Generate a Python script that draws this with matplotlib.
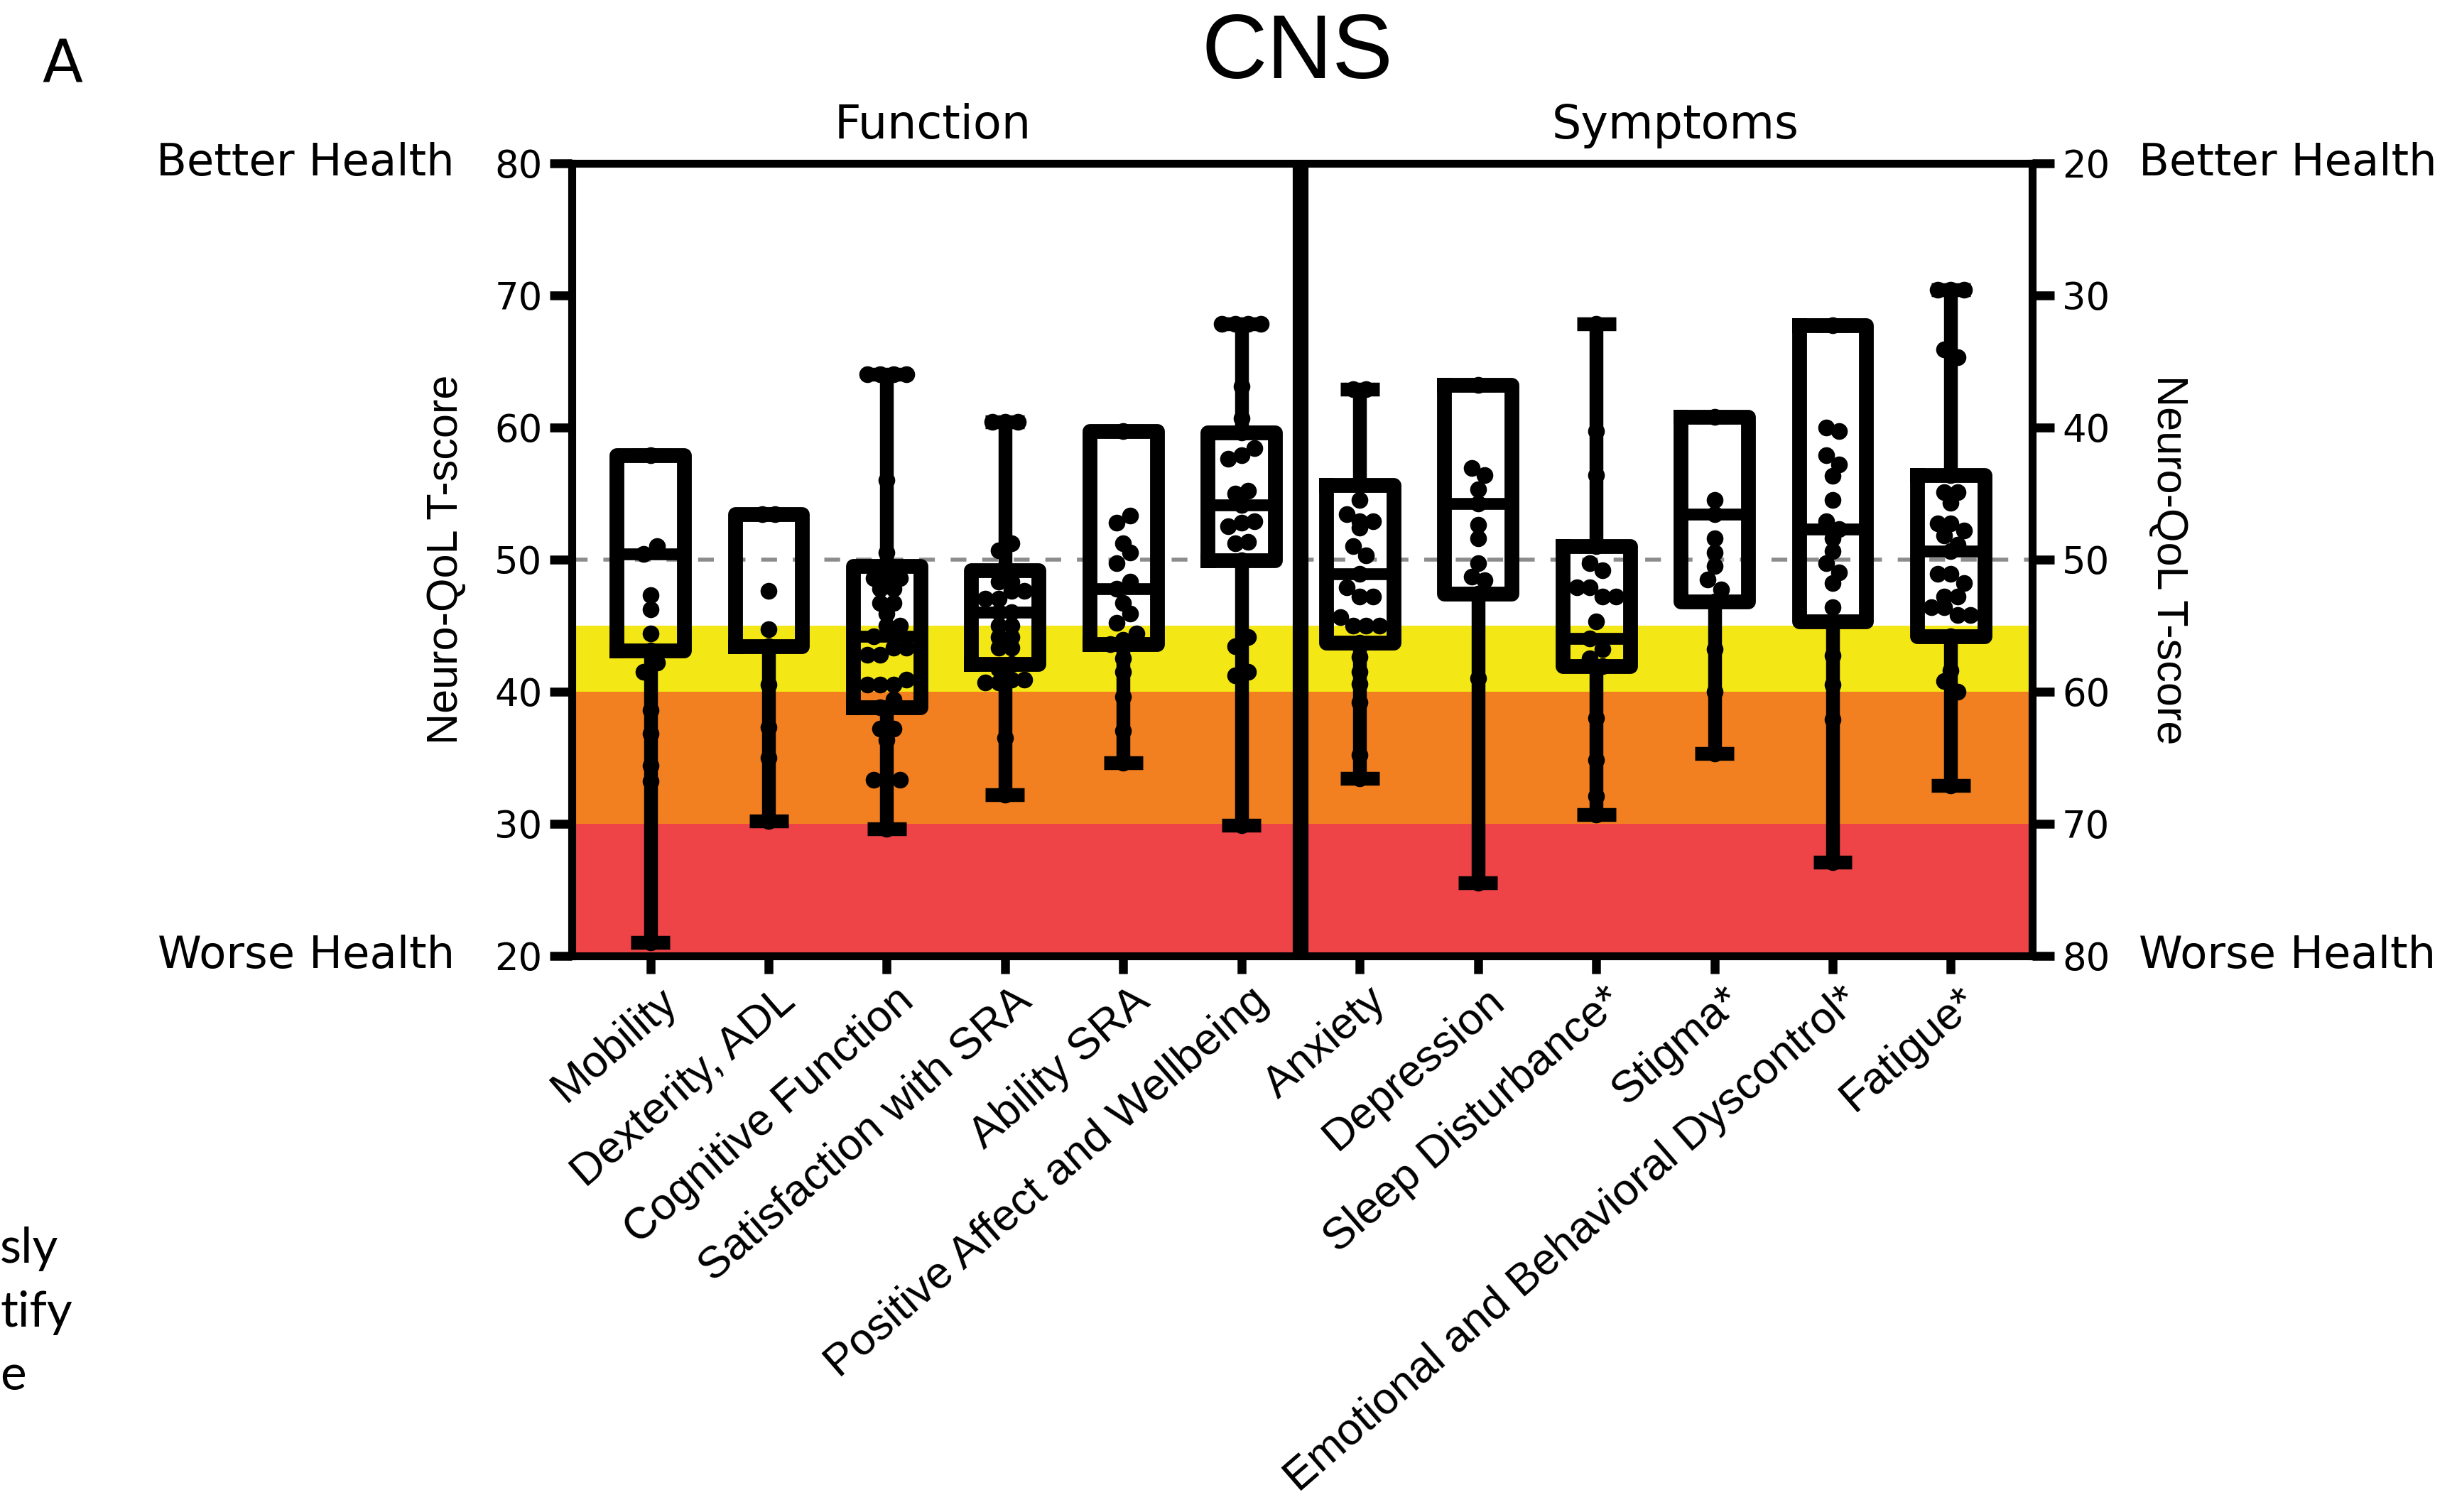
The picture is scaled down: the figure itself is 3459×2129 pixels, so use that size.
import numpy as np
import matplotlib.pyplot as plt
from matplotlib.transforms import ScaledTranslation

# categories
function_names = ["Mobility", "Dexterity, ADL", "Cognitive Function",
                  "Satisfaction with SRA", "Ability SRA", "Positive Affect and Wellbeing"]
symptom_names = ["Anxiety", "Depression", "Sleep Disturbance*", "Stigma*",
                 "Emotional and Behavioral Dyscontrol*", "Fatigue*"]

# function domains, left axis (higher = better)
fun_min = [21.0, 30.2, 29.6, 32.2, 34.6, 29.9]
fun_q1 = [43.1, 43.4, 38.8, 42.1, 43.6, 49.9]
fun_med = [50.4, 53.4, 44.2, 46.0, 47.8, 54.1]
fun_q3 = [57.9, 53.4, 49.5, 49.2, 59.7, 59.6]
fun_max = [57.9, 53.4, 64.0, 60.4, 59.7, 67.8]

mobility = [57.9, 51.0, 50.4, 47.3, 46.2, 44.4, 43.1, 42.2, 41.5, 38.6, 36.8, 34.4, 33.2, 21.0]
dexterity = [53.4, 53.4, 47.6, 44.7, 43.4, 40.5, 37.3, 35.0, 30.2]
cognitive = [64.0, 64.0, 64.0, 64.0, 56.0, 50.5, 49.5, 48.6, 48.6, 48.6, 47.8, 47.8, 46.7, 46.7,
             45.9, 45.0, 45.0, 44.2, 43.3, 43.3, 42.8, 42.8, 40.9, 40.5, 40.5, 40.5, 39.4, 38.8,
             37.2, 37.2, 36.3, 33.3, 33.3, 33.3, 29.6]
satisfaction = [60.4, 60.4, 60.4, 51.2, 50.7, 49.2, 48.3, 48.3, 47.6, 47.6, 47.0, 47.0, 46.0, 46.0,
                45.0, 45.0, 44.1, 44.1, 43.3, 43.3, 42.1, 41.7, 40.9, 40.9, 40.7, 40.7, 36.5, 32.2]
ability = [59.7, 53.3, 52.8, 51.2, 50.5, 49.7, 48.3, 47.8, 46.7, 45.9, 45.2, 44.4, 43.9, 43.6,
           42.5, 41.5, 39.6, 37.0, 34.6]
positive = [67.8, 67.8, 67.8, 67.8, 63.1, 60.7, 59.6, 58.4, 57.9, 57.6, 55.2, 55.0, 54.1, 52.9,
            52.8, 52.5, 51.3, 51.2, 49.9, 44.1, 43.4, 41.5, 41.2, 29.9]

# symptom domains, right axis (higher = worse)
sym_min = [37.1, 36.8, 32.2, 39.2, 32.3, 29.6]
sym_q1 = [44.4, 36.8, 49.0, 39.2, 32.3, 43.6]
sym_med = [51.1, 45.8, 56.0, 46.6, 47.7, 49.4]
sym_q3 = [56.3, 52.6, 58.1, 53.2, 54.7, 55.8]
sym_max = [66.6, 74.5, 69.3, 64.7, 72.9, 67.1]

anxiety = [37.1, 37.1, 44.4, 45.5, 46.6, 47.1, 47.1, 47.6, 49.0, 49.7, 51.1, 52.1, 52.8, 52.8,
           54.4, 55.0, 55.0, 55.0, 56.3, 57.4, 58.5, 59.4, 60.8, 64.8, 66.6]
depression = [36.8, 43.1, 43.6, 44.7, 45.8, 47.4, 48.4, 50.3, 51.3, 51.6, 52.6, 59.0, 74.5]
sleep = [32.2, 40.3, 43.6, 49.0, 50.3, 50.8, 52.1, 52.1, 52.8, 52.8, 54.7, 56.0, 56.8, 57.5,
         58.1, 62.0, 65.2, 67.9, 69.3]
stigma = [39.2, 45.5, 46.6, 48.4, 49.5, 50.5, 51.5, 52.3, 53.2, 56.8, 60.0, 64.7]
emotional = [32.3, 40.0, 40.3, 42.1, 42.8, 43.7, 45.5, 47.1, 47.7, 48.4, 49.4, 50.3, 51.0, 51.8,
             53.6, 54.7, 57.3, 59.5, 62.1, 72.9]
fatigue = [29.6, 29.6, 29.6, 34.1, 34.7, 43.6, 44.9, 44.9, 45.7, 47.3, 47.3, 47.8, 48.2, 48.9,
           49.4, 51.1, 51.1, 51.8, 52.8, 52.8, 53.6, 53.6, 54.2, 54.2, 55.8, 58.4, 59.2, 60.0, 67.1]

fun_points = [mobility, dexterity, cognitive, satisfaction, ability, positive]
sym_points = [anxiety, depression, sleep, stigma, emotional, fatigue]

YELLOW = "#F3E716"
ORANGE = "#F38020"
RED = "#EE4447"
PRISM = "DejaVu Sans"
ARIAL = "Liberation Sans"


def make_stats(lo, q1, med, q3, hi):
    return [dict(whislo=a, q1=b, med=c, q3=d, whishi=e, fliers=[])
            for a, b, c, d, e in zip(lo, q1, med, q3, hi)]


def swarm(vals, d=0.11, tol=0.8):
    # spread near-equal values sideways, centred on the box
    vals = np.sort(np.asarray(vals, dtype=float))
    xs = np.zeros(len(vals))
    start = 0
    for i in range(1, len(vals) + 1):
        if i == len(vals) or vals[i] - vals[start] > tol:
            n = i - start
            xs[start:i] = (np.arange(n) - (n - 1) / 2) * d
            start = i
    return xs, vals


fig = plt.figure(figsize=(34.59, 21.29), dpi=100)
ax = fig.add_axes([0.2328, 0.3679, 0.5944, 0.5243])
ax2 = ax.twinx()

# severity bands
ax.axhspan(40, 45, color=YELLOW, lw=0, zorder=0)
ax.axhspan(30, 40, color=ORANGE, lw=0, zorder=0)
ax.axhspan(20, 30, color=RED, lw=0, zorder=0)
ax.axhline(50, color="#8c8c8c", lw=4, ls=(0, (4, 4)), zorder=1)

box_kw = dict(widths=0.57, capwidths=0.33, showfliers=False, manage_ticks=False,
              boxprops=dict(color="k", lw=15, solid_joinstyle="round"),
              whiskerprops=dict(color="k", lw=14, solid_capstyle="butt"),
              capprops=dict(color="k", lw=14, solid_capstyle="butt"),
              medianprops=dict(color="k", lw=12, solid_capstyle="butt"),
              zorder=3)

fun_pos = np.arange(6)
sym_pos = np.arange(6, 12)
ax.bxp(make_stats(fun_min, fun_q1, fun_med, fun_q3, fun_max), positions=fun_pos, **box_kw)
ax2.bxp(make_stats(sym_min, sym_q1, sym_med, sym_q3, sym_max), positions=sym_pos, **box_kw)

for p, pts in zip(fun_pos, fun_points):
    dx, v = swarm(pts)
    ax.plot(p + dx, v, "o", color="k", ms=17, mew=0, zorder=4)
for p, pts in zip(sym_pos, sym_points):
    dx, v = swarm(pts)
    ax2.plot(p + dx, v, "o", color="k", ms=17, mew=0, zorder=4)

ax.axvline(5.5, color="k", lw=16, zorder=5)

ax.set_xlim(-0.663, 11.69)
ax.set_ylim(20, 80)
ax2.set_ylim(80, 20)
ax.set_yticks(range(20, 81, 10))
ax2.set_yticks(range(20, 81, 10))

for a in (ax, ax2):
    a.tick_params(axis="y", direction="out", length=22, width=9, labelsize=38, pad=8)
    for t in a.get_yticklabels():
        t.set_family(PRISM)
ax.tick_params(axis="x", direction="out", length=18, width=9, pad=6)
ax.set_xticks(range(12))
ax.set_xticklabels(function_names + symptom_names, fontsize=45, family=ARIAL,
                   rotation=41, ha="right", va="top", rotation_mode="anchor")
shift = ScaledTranslation(0.1, 0, fig.dpi_scale_trans)
for t in ax.get_xticklabels():
    t.set_transform(t.get_transform() + shift)

for s in ("left", "top", "bottom"):
    ax.spines[s].set_linewidth(8)
    ax2.spines[s].set_visible(False)
ax.spines["right"].set_visible(False)
ax2.spines["right"].set_linewidth(8)

# texts
fig.text(0.528, 0.9637, "CNS", fontsize=92, family=ARIAL, ha="center", va="center")
fig.text(0.0255, 0.9565, "A", fontsize=60, family=PRISM, ha="center", va="center")
fig.text(0.3795, 0.917, "Function", fontsize=47, family=PRISM, ha="center", va="center")
fig.text(0.682, 0.917, "Symptoms", fontsize=47, family=PRISM, ha="center", va="center")
fig.text(0.185, 0.8922, "Better Health", fontsize=45, family=PRISM, ha="right", va="center")
fig.text(0.185, 0.368, "Worse Health", fontsize=45, family=PRISM, ha="right", va="center")
fig.text(0.8705, 0.8922, "Better Health", fontsize=45, family=PRISM, ha="left", va="center")
fig.text(0.8705, 0.368, "Worse Health", fontsize=45, family=PRISM, ha="left", va="center")
fig.text(0.1818, 0.63, "Neuro-QoL T-score", fontsize=44, family=ARIAL, rotation=90,
         ha="center", va="center")
fig.text(0.8826, 0.63, "Neuro-QoL T-score", fontsize=44, family=ARIAL, rotation=270,
         ha="center", va="center")

# cropped slide text at the lower left
for y, s in zip([0.1649, 0.1226, 0.0808], ["sly", "tify", "e"]):
    fig.text(0.0, y, s, fontsize=50, family="Lato", ha="left", va="baseline")

fig.savefig("out.png", dpi=100)
